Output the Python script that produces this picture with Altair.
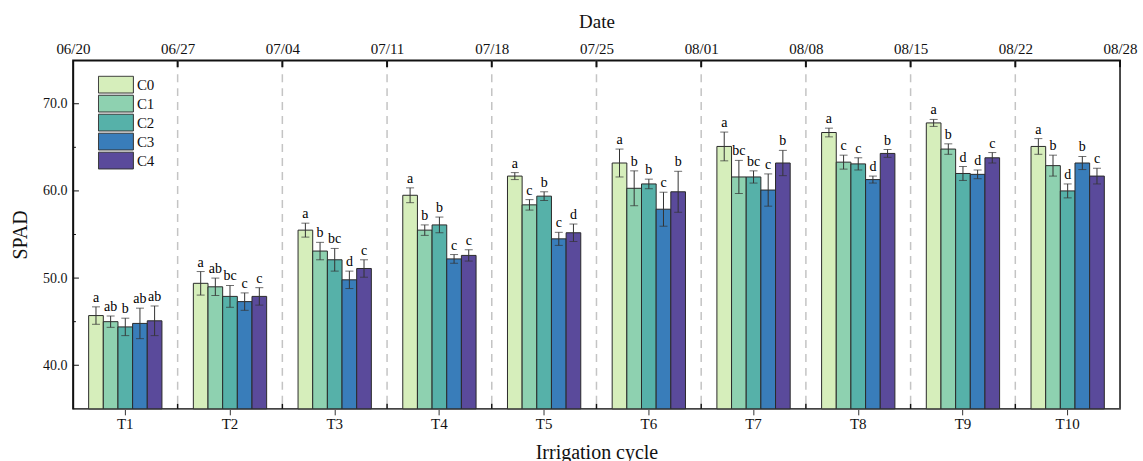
import altair as alt
import pandas as pd

# Irrigation cycles and treatments
cycles = ["T1", "T2", "T3", "T4", "T5", "T6", "T7", "T8", "T9", "T10"]
series = ["C0", "C1", "C2", "C3", "C4"]
colors = ["#d6eebb", "#8ed1b0", "#56b1a9", "#397dba", "#5a4a9b"]

# Date labels at the boundaries of each irrigation cycle
dates = ["06/20", "06/27", "07/04", "07/11", "07/18", "07/25",
         "08/01", "08/08", "08/15", "08/22", "08/28"]

# Mean SPAD per cycle (rows) and treatment (columns C0..C4)
spad_mean = [
    [45.7, 45.0, 44.4, 44.8, 45.1],
    [49.4, 49.0, 47.9, 47.3, 47.9],
    [55.5, 53.1, 52.1, 49.8, 51.1],
    [59.5, 55.5, 56.1, 52.2, 52.6],
    [61.7, 58.4, 59.4, 54.5, 55.2],
    [63.2, 60.3, 60.8, 57.9, 59.9],
    [65.1, 61.6, 61.6, 60.1, 63.2],
    [66.7, 63.3, 63.1, 61.3, 64.3],
    [67.8, 64.8, 62.0, 61.9, 63.8],
    [65.1, 62.9, 60.0, 63.2, 61.7],
]

# Standard deviation (error bar half-length)
spad_sd = [
    [1.0, 0.65, 1.0, 1.75, 1.7],
    [1.35, 1.0, 1.25, 1.0, 1.0],
    [0.8, 1.0, 1.3, 1.0, 1.0],
    [0.85, 0.6, 0.9, 0.5, 0.65],
    [0.4, 0.6, 0.5, 0.75, 1.0],
    [1.6, 2.0, 0.55, 1.95, 2.35],
    [1.65, 1.9, 0.7, 1.85, 1.45],
    [0.5, 0.8, 0.7, 0.4, 0.45],
    [0.4, 0.6, 0.8, 0.5, 0.6],
    [0.9, 1.2, 0.8, 0.75, 0.9],
]

# Significance letters
letters = [
    ["a", "ab", "b", "ab", "ab"],
    ["a", "ab", "bc", "c", "c"],
    ["a", "b", "bc", "d", "c"],
    ["a", "b", "b", "c", "c"],
    ["a", "c", "b", "c", "d"],
    ["a", "b", "b", "c", "b"],
    ["a", "bc", "bc", "c", "b"],
    ["a", "c", "c", "d", "b"],
    ["a", "b", "d", "d", "c"],
    ["a", "b", "d", "b", "c"],
]

y_min, y_max = 35, 75
y_major = [40, 50, 60, 70]
y_minor = [45, 55, 65]

W, H = 1048, 349
FONT = "Liberation Serif"

rows = []
for i, c in enumerate(cycles):
    for j, s in enumerate(series):
        rows.append({"cycle": c, "series": s, "mean": spad_mean[i][j],
                     "sd": spad_sd[i][j], "letter": letters[i][j]})
df = pd.DataFrame(rows)

date_df = pd.DataFrame({"idx": list(range(len(dates))), "label": dates})
inner_df = date_df[(date_df.idx > 0) & (date_df.idx < len(dates) - 1)]

x_band = alt.X("cycle:N", sort=cycles,
               scale=alt.Scale(paddingInner=0.3, paddingOuter=0.15),
               axis=alt.Axis(title="Irrigation cycle", labelAngle=0,
                             labelFont=FONT, labelFontSize=15, labelColor="#111",
                             titleFont=FONT, titleFontSize=20, titleFontWeight="normal",
                             titleColor="#111", titlePadding=11,
                             tickSize=6, tickColor="#333", domainColor="#777",
                             domainWidth=1.5, labelPadding=2))
x_off = alt.XOffset("series:N", sort=series, scale=alt.Scale(paddingInner=0, paddingOuter=0))
y_scale = alt.Scale(domain=[y_min, y_max], zero=False, nice=False)

base = alt.Chart(df).transform_calculate(
    lo="datum.mean - datum.sd", hi="datum.mean + datum.sd"
)

bars = base.mark_bar(stroke="#2a2a2a", strokeWidth=1, opacity=1).encode(
    x=x_band,
    xOffset=x_off,
    y=alt.Y("mean:Q", scale=y_scale, stack=None,
            axis=alt.Axis(title="SPAD", values=y_major, format=".1f", grid=False,
                          ticks=False, labelFont=FONT, labelFontSize=14,
                          labelColor="#111", labelPadding=6,
                          titleFont=FONT, titleFontSize=20, titleFontWeight="normal",
                          titleColor="#111", titlePadding=12,
                          domainColor="#111", domainWidth=1.5)),
    y2=alt.datum(y_min),
    color=alt.Color("series:N", sort=series,
                    scale=alt.Scale(domain=series, range=colors),
                    legend=alt.Legend(title=None, orient="none", legendX=25, legendY=15,
                                      symbolType="M-1,-0.48H1V0.48H-1Z", symbolSize=1225,
                                      symbolStrokeColor="#333", symbolStrokeWidth=1,
                                      symbolOpacity=1, rowPadding=0, padding=0,
                                      labelFont=FONT, labelFontSize=15,
                                      labelColor="#111", labelOffset=3,
                                      clipHeight=19)),
)

err = base.mark_rule(color="#333", strokeWidth=1).encode(
    x=x_band, xOffset=x_off, y=alt.Y("lo:Q", scale=y_scale), y2="hi:Q")
cap_lo = base.mark_tick(color="#333", thickness=1, size=8).encode(
    x=x_band, xOffset=x_off, y=alt.Y("lo:Q", scale=y_scale))
cap_hi = base.mark_tick(color="#333", thickness=1, size=8).encode(
    x=x_band, xOffset=x_off, y=alt.Y("hi:Q", scale=y_scale))
txt = base.mark_text(baseline="bottom", dy=-2, font=FONT, fontSize=14, color="#000").encode(
    x=x_band, xOffset=x_off, y=alt.Y("hi:Q", scale=y_scale), text="letter:N")

# inward ticks on the left axis
ymaj = alt.Chart(pd.DataFrame({"v": y_major})).mark_rule(color="#111", strokeWidth=1).encode(
    y=alt.Y("v:Q", scale=y_scale), x=alt.value(0), x2=alt.value(6))
ymin = alt.Chart(pd.DataFrame({"v": y_minor})).mark_rule(color="#111", strokeWidth=1).encode(
    y=alt.Y("v:Q", scale=y_scale), x=alt.value(0), x2=alt.value(3))

main = alt.layer(bars, err, cap_lo, cap_hi, txt, ymaj, ymin)

x_date = alt.X("idx:Q", scale=alt.Scale(domain=[0, len(dates) - 1], nice=False),
               axis=alt.Axis(orient="top", title="Date", values=list(range(len(dates))),
                             labelExpr=f"{dates}[datum.value]", ticks=False, grid=False,
                             labelFont=FONT, labelFontSize=15, labelColor="#111",
                             labelPadding=4, labelFlush=False,
                             titleFont=FONT, titleFontSize=19, titleFontWeight="normal",
                             titleColor="#111", titlePadding=10,
                             domainColor="#111", domainWidth=1.5))

dash = alt.Chart(inner_df).mark_rule(color="#c4c4c4", strokeWidth=1.5, strokeDash=[8, 6]).encode(
    x=x_date, y=alt.value(0), y2=alt.value(H))
top_ticks = alt.Chart(date_df[date_df.idx > 0]).mark_rule(color="#111", strokeWidth=2).encode(
    x=x_date, y=alt.value(0), y2=alt.value(7))
bot_ticks = alt.Chart(inner_df).mark_rule(color="#111", strokeWidth=1.5).encode(
    x=x_date, y=alt.value(H - 5), y2=alt.value(H))

overlay = alt.layer(dash, top_ticks, bot_ticks)

chart = alt.layer(overlay, main).resolve_scale(x="independent").resolve_axis(
    x="independent"
).properties(
    width=W, height=H,
    padding={"left": 10, "top": 12, "right": 5, "bottom": 0},
    background="white",
).configure_view(stroke="#111", strokeWidth=1.5)

chart.save("out.html", embed_options={"renderer": "svg", "actions": False})
